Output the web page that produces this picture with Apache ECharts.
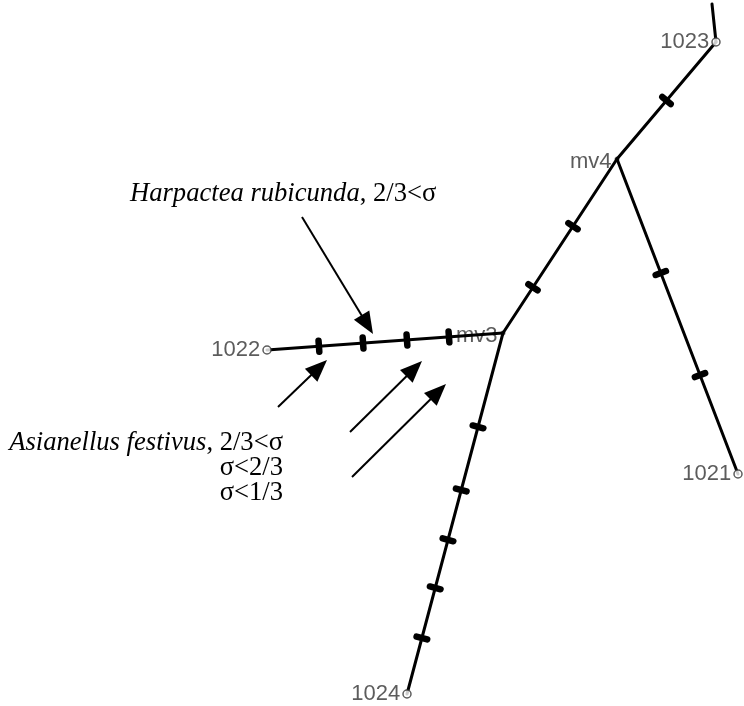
<!DOCTYPE html>
<html>
<head>
<meta charset="utf-8">
<script src="https://cdn.jsdelivr.net/npm/echarts@6/dist/echarts.min.js"></script>
<style>
html,body{margin:0;padding:0;background:#fff;}
#chart{width:744px;height:706px;}
</style>
</head>
<body>
<div id="chart"></div>
<script>
// ---- data (diagram coordinate space: x 0..744, y 0..706 downward) ----
var nodeNames = ['top', '1023', 'mv4', 'mv3', '1022', '1021', '1024'];
var nodeX     = [712, 716, 617, 503, 267, 738, 407];
var nodeY     = [4,   42,  159, 333, 350, 474, 694];
var nodeKind  = ['hidden', 'leaf', 'median', 'median', 'leaf', 'leaf', 'leaf'];

var edgeFrom = ['top', '1023', 'mv4', 'mv4', 'mv3', 'mv3'];
var edgeTo   = ['1023', 'mv4', 'mv3', '1021', '1022', '1024'];

// mutations: edge index + fraction along the edge (from edgeFrom to edgeTo)
var mutEdge = [1,    2,     2,     3,     3,     4,     4,     4,     4,    5,    5,     5,     5,     5];
var mutPos  = [0.5,  0.386, 0.737, 0.362, 0.686, 0.229, 0.407, 0.593, 0.78, 0.26, 0.435, 0.573, 0.706, 0.845];

// annotation arrows: tail (x,y) -> tip (x,y)
var arrowTailX = [302, 278, 350, 352];
var arrowTailY = [217, 407, 432, 477];
var arrowTipX  = [373, 327, 422, 446];
var arrowTipY  = [334, 360, 361, 384];

// annotation texts
var annoItalic = ['Harpactea rubicunda', 'Asianellus festivus', '', ''];
var annoPlain  = [', 2/3<σ', ', 2/3<σ', 'σ<2/3', 'σ<1/3'];
var annoX      = [130, 283, 283, 283];
var annoY      = [194, 443, 468, 493];
var annoAlign  = ['left', 'right', 'right', 'right'];

// ---- build ----
function idx(n) { return nodeNames.indexOf(n); }

var edgeData = edgeFrom.map(function (f, i) {
  var a = idx(f), b = idx(edgeTo[i]);
  return { coords: [[nodeX[a], nodeY[a]], [nodeX[b], nodeY[b]]] };
});

var leafData = [], medData = [];
nodeNames.forEach(function (n, i) {
  if (nodeKind[i] === 'leaf') leafData.push({ name: n, value: [nodeX[i], nodeY[i]] });
  if (nodeKind[i] === 'median') medData.push({ name: n, value: [nodeX[i], nodeY[i]] });
});

var mutData = mutEdge.map(function (e, i) { return [e, mutPos[i]]; });
var arrowData = arrowTailX.map(function (x, i) { return [x, arrowTailY[i], arrowTipX[i], arrowTipY[i]]; });
var annoData = annoX.map(function (x, i) { return [x, annoY[i], i]; });

var labelFont = { fontFamily: 'Liberation Sans, Arial, sans-serif', fontSize: 22, color: '#333333' };
var serif = 'Liberation Serif, Times New Roman, serif';
var annoSize = 26.6;

var chart = echarts.init(document.getElementById('chart'), null, { renderer: 'canvas' });
chart.setOption({
  backgroundColor: '#ffffff',
  animation: false,
  grid: { left: 0, right: 0, top: 0, bottom: 0 },
  xAxis: { type: 'value', min: 0, max: 744, show: false },
  yAxis: { type: 'value', min: 0, max: 706, inverse: true, show: false },
  series: [
    {
      type: 'scatter', name: 'medianLabels', z: 1,
      data: medData, symbol: 'circle', symbolSize: 5,
      itemStyle: { color: '#666666' },
      label: {
        show: true, position: 'left', distance: 3,
        formatter: '{b}', offset: [0, 3],
        fontFamily: labelFont.fontFamily, fontSize: labelFont.fontSize, color: labelFont.color
      }
    },
    {
      type: 'lines', name: 'edges', coordinateSystem: 'cartesian2d', z: 2,
      data: edgeData, symbol: 'none',
      lineStyle: { color: '#000', width: 3, opacity: 1, cap: 'round' }
    },
    {
      type: 'custom', name: 'mutations', z: 3,
      data: mutData,
      renderItem: function (params, api) {
        var e = api.value(0), t = api.value(1);
        var a = idx(edgeFrom[e]), b = idx(edgeTo[e]);
        var p1 = api.coord([nodeX[a], nodeY[a]]);
        var p2 = api.coord([nodeX[b], nodeY[b]]);
        var dx = p2[0] - p1[0], dy = p2[1] - p1[1];
        var len = Math.sqrt(dx * dx + dy * dy);
        var px = -dy / len, py = dx / len;
        var cx = p1[0] + t * dx, cy = p1[1] + t * dy;
        var h = 5.5;
        return {
          type: 'line',
          shape: { x1: cx - px * h, y1: cy - py * h, x2: cx + px * h, y2: cy + py * h },
          style: { stroke: '#000', lineWidth: 6.5, lineCap: 'round' }
        };
      }
    },
    {
      type: 'scatter', name: 'leaves', z: 4,
      data: leafData, symbol: 'circle', symbolSize: 8,
      itemStyle: { color: '#ffffff', borderColor: '#333333', borderWidth: 1.5 },
      label: {
        show: true, position: 'left', distance: 2,
        formatter: '{b}',
        fontFamily: labelFont.fontFamily, fontSize: labelFont.fontSize, color: labelFont.color
      }
    },
    {
      type: 'custom', name: 'arrows', z: 5,
      data: arrowData,
      renderItem: function (params, api) {
        var s = api.coord([api.value(0), api.value(1)]);
        var tp = api.coord([api.value(2), api.value(3)]);
        var dx = tp[0] - s[0], dy = tp[1] - s[1];
        var len = Math.sqrt(dx * dx + dy * dy);
        var ux = dx / len, uy = dy / len;
        var hl = 22, hw = 9;
        var bx = tp[0] - ux * hl, by = tp[1] - uy * hl;
        return {
          type: 'group',
          children: [
            { type: 'line', shape: { x1: s[0], y1: s[1], x2: bx + ux * 2, y2: by + uy * 2 },
              style: { stroke: '#000', lineWidth: 2 } },
            { type: 'polygon', shape: { points: [[tp[0], tp[1]], [bx - uy * hw, by + ux * hw], [bx + uy * hw, by - ux * hw]] },
              style: { fill: '#000' } }
          ]
        };
      }
    },
    {
      type: 'custom', name: 'annotations', z: 6,
      data: annoData,
      renderItem: function (params, api) {
        var p = api.coord([api.value(0), api.value(1)]);
        var i = api.value(2);
        var txt = (annoItalic[i] ? '{i|' + annoItalic[i] + '}' : '') + '{r|' + annoPlain[i] + '}';
        return {
          type: 'text',
          x: p[0], y: p[1],
          style: {
            text: txt,
            align: annoAlign[i],
            verticalAlign: 'middle',
            fill: '#000',
            font: annoSize + 'px ' + serif,
            rich: {
              i: { fontFamily: serif, fontSize: annoSize, fontStyle: 'italic', fill: '#000', color: '#000' },
              r: { fontFamily: serif, fontSize: annoSize, fill: '#000', color: '#000' }
            }
          }
        };
      }
    }
  ]
});
</script>
</body>
</html>
